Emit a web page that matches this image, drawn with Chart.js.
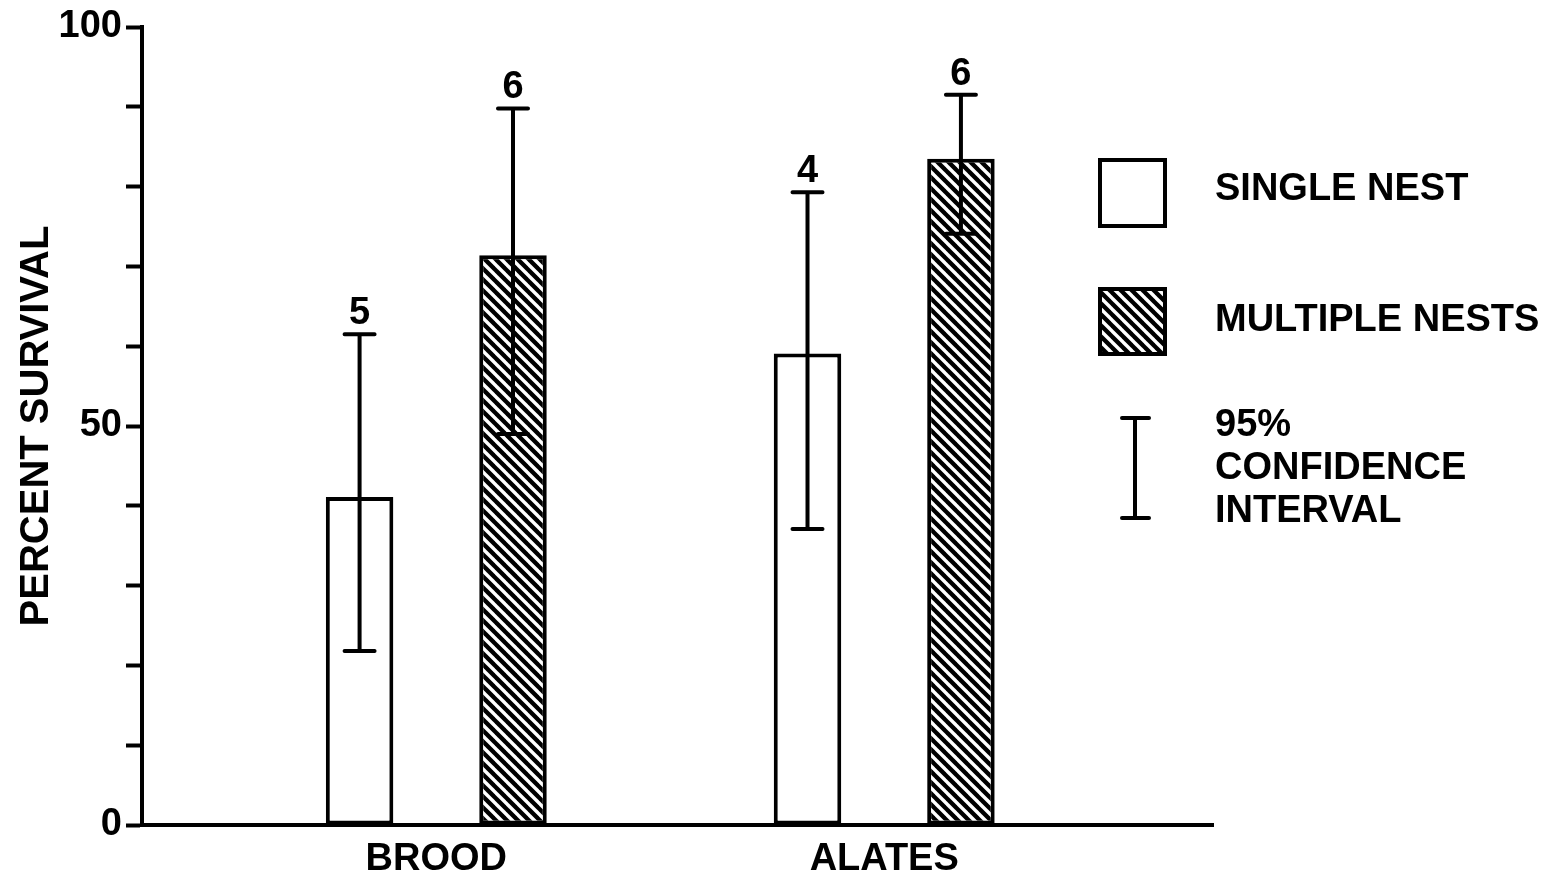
<!DOCTYPE html>
<html>
<head>
<meta charset="utf-8">
<script src="https://cdn.jsdelivr.net/npm/chart.js@4/dist/chart.umd.min.js"></script>
<style>
html,body{margin:0;padding:0;background:#fff;}
#wrap{width:1560px;height:878px;position:relative;}
</style>
</head>
<body>
<div id="wrap"><canvas id="c" width="1560" height="878"></canvas></div>
<script>
// ---- data ----
const categories = ['BROOD', 'ALATES'];
const seriesNames = ['SINGLE NEST', 'MULTIPLE NESTS'];
const singleNest = [41.1, 59.1];
const multipleNests = [71.4, 83.5];
const singleLow = [21.8, 37.1];
const singleHigh = [61.5, 79.3];
const multipleLow = [49.0, 74.1];
const multipleHigh = [89.8, 91.5];
const singleN = [5, 4];
const multipleN = [6, 6];
const yTickLabels = [0, 50, 100];
const legendNote = ['95%', 'CONFIDENCE', 'INTERVAL'];

const FONT = "'Liberation Sans', Arial, sans-serif";

function hatchPattern(ctx) {
  const s = 11;
  const c = document.createElement('canvas');
  c.width = s; c.height = s;
  const g = c.getContext('2d');
  g.fillStyle = '#000';
  g.fillRect(0, 0, s, s);
  g.strokeStyle = '#fff';
  g.lineWidth = 3.4;
  for (let k = -1; k <= 1; k++) {
    g.beginPath();
    g.moveTo(-1, k * s - 1);
    g.lineTo(s + 1, s + k * s + 1);
    g.stroke();
  }
  return ctx.createPattern(c, 'repeat');
}

const canvas = document.getElementById('c');
const ctx = canvas.getContext('2d');
const hatch = hatchPattern(ctx);

const errorBars = [
  { low: singleLow, high: singleHigh, n: singleN },
  { low: multipleLow, high: multipleHigh, n: multipleN }
];

const errorPlugin = {
  id: 'errorPlugin',
  afterDatasetsDraw(chart) {
    const c = chart.ctx;
    const y = chart.scales.y;
    c.save();
    c.strokeStyle = '#000';
    c.fillStyle = '#000';
    c.lineWidth = 4;
    c.lineCap = 'round';
    errorBars.forEach((eb, di) => {
      const meta = chart.getDatasetMeta(di);
      meta.data.forEach((bar, i) => {
        const x = bar.x;
        const yl = y.getPixelForValue(eb.low[i]);
        const yh = y.getPixelForValue(eb.high[i]);
        c.beginPath();
        c.moveTo(x, yl); c.lineTo(x, yh);
        c.moveTo(x - 15, yl); c.lineTo(x + 15, yl);
        c.moveTo(x - 15, yh); c.lineTo(x + 15, yh);
        c.stroke();
        c.font = 'bold 38px ' + FONT;
        c.textAlign = 'center';
        c.textBaseline = 'alphabetic';
        c.fillText(String(eb.n[i]), x, yh - 10);
      });
    });
    c.restore();
  }
};

const legendPlugin = {
  id: 'legendPlugin',
  afterDraw(chart) {
    const c = chart.ctx;
    c.save();
    c.lineWidth = 4;
    c.strokeStyle = '#000';
    c.fillStyle = '#fff';
    c.fillRect(1100, 160, 65, 66);
    c.strokeRect(1100, 160, 65, 66);
    c.fillStyle = hatch;
    c.fillRect(1100, 289, 65, 65);
    c.strokeRect(1100, 289, 65, 65);
    c.lineCap = 'round';
    c.beginPath();
    c.moveTo(1135, 418); c.lineTo(1135, 518);
    c.moveTo(1122, 418); c.lineTo(1149, 418);
    c.moveTo(1122, 518); c.lineTo(1149, 518);
    c.stroke();
    c.fillStyle = '#000';
    c.font = 'bold 38px ' + FONT;
    c.textAlign = 'left';
    c.textBaseline = 'middle';
    c.fillText(seriesNames[0], 1215, 190);
    c.fillText(seriesNames[1], 1215, 321);
    legendNote.forEach((t, i) => c.fillText(t, 1215, 426 + i * 43));
    c.restore();
  }
};

new Chart(ctx, {
  type: 'bar',
  data: {
    datasets: [
      {
        label: seriesNames[0],
        data: categories.map((c, i) => ({ x: i + 1, y: singleNest[i] })),
        backgroundColor: '#fff',
        borderColor: '#000',
        borderWidth: 4,
        borderSkipped: false
      },
      {
        label: seriesNames[1],
        data: categories.map((c, i) => ({ x: i + 1, y: multipleNests[i] })),
        backgroundColor: hatch,
        borderColor: '#000',
        borderWidth: 4,
        borderSkipped: false
      }
    ]
  },
  options: {
    responsive: false,
    animation: false,
    categoryPercentage: 0.685,
    barPercentage: 0.44,
    layout: { padding: { top: 27, right: 347, left: 0, bottom: 0 } },
    plugins: { legend: { display: false }, tooltip: { enabled: false } },
    scales: {
      x: {
        type: 'linear',
        offset: false,
        min: 0.343,
        max: 2.734,
        afterBuildTicks(scale) { scale.ticks = categories.map((c, i) => ({ value: i + 1 })); },
        afterFit(scale) { scale.height = 53; },
        grid: { display: false, drawTicks: false, offset: false },
        border: { display: true, color: '#000', width: 4 },
        ticks: {
          color: '#000',
          padding: 12,
          font: { family: FONT, size: 38, weight: 'bold' },
          callback: (v) => categories[Math.round(v) - 1] || ''
        }
      },
      y: {
        min: 0,
        max: 100,
        afterFit(scale) { scale.width = 142; },
        grid: { drawOnChartArea: false, drawTicks: true, tickLength: 16, tickWidth: 4, tickColor: '#000' },
        border: { display: true, color: '#000', width: 4 },
        ticks: {
          stepSize: 10,
          color: '#000',
          padding: 4,
          font: { family: FONT, size: 38, weight: 'bold' },
          callback: (v) => yTickLabels.includes(v) ? String(v) : ''
        },
        title: {
          display: true,
          text: 'PERCENT SURVIVAL',
          color: '#000',
          padding: { top: 13, bottom: 0 },
          font: { family: FONT, size: 40, weight: 'bold' }
        }
      }
    }
  },
  plugins: [errorPlugin, legendPlugin]
});
</script>
</body>
</html>
